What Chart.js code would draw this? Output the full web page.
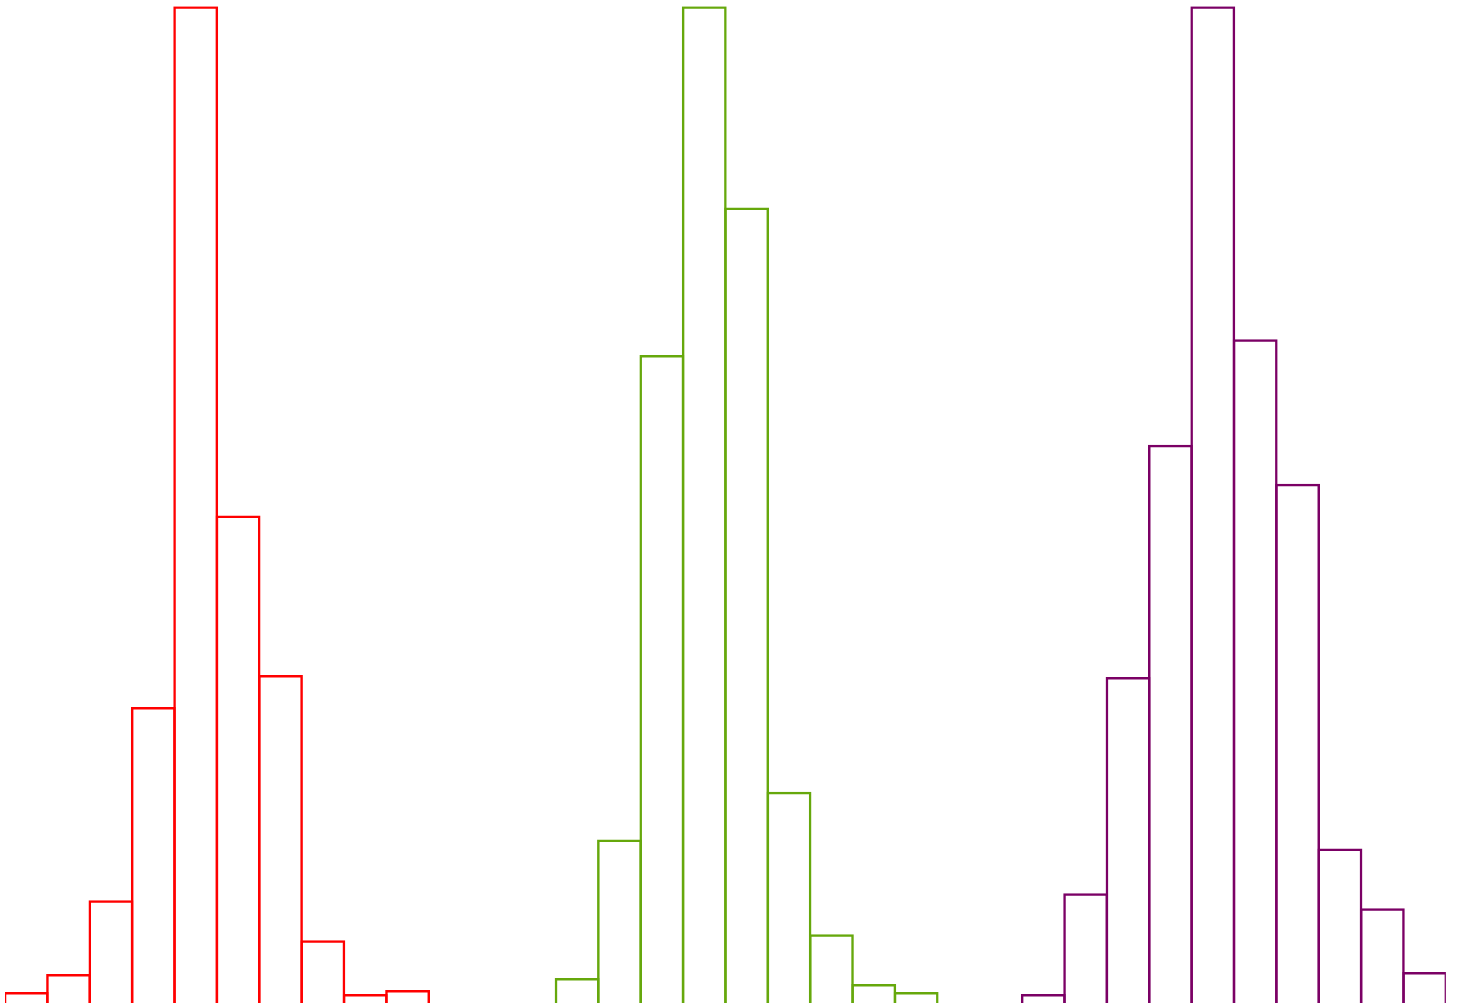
<!DOCTYPE html>
<html>
<head>
<meta charset="utf-8">
<script src="https://cdn.jsdelivr.net/npm/chart.js@4/dist/chart.umd.min.js"></script>
<style>
html,body{margin:0;padding:0;background:#fff;}
#wrap{width:1461px;height:1003px;position:relative;}
</style>
</head>
<body>
<div id="wrap"><canvas id="c"></canvas></div>
<script>
// 34 bins along a shared axis
const binCount = 34;
const binLabels = Array.from({length: binCount}, (_, i) => String(i));

// histogram 1 (red): starts at bin 0
const redStart = 0;
const redValues = [1.1, 2.9, 10.3, 29.7, 100, 48.9, 32.9, 6.3, 0.9, 1.3];

// histogram 2 (green): starts at bin 13
const greenStart = 13;
const greenValues = [2.5, 16.4, 65.0, 100, 79.8, 21.2, 6.9, 1.9, 1.1];

// histogram 3 (purple): starts at bin 24
const purpleStart = 24;
const purpleValues = [0.9, 11.0, 32.7, 56.0, 100, 66.6, 52.1, 15.5, 9.5, 3.1];

function place(start, vals) {
  const arr = new Array(binCount).fill(null);
  vals.forEach((v, i) => { arr[start + i] = v; });
  return arr;
}

const bw = 2.5;
const catW = (1461 - 5 - 15.1) / binCount;
const barPct = (catW + bw) / catW;

function ds(data, color) {
  return {
    data,
    backgroundColor: 'rgba(0,0,0,0)',
    borderColor: color,
    borderWidth: bw,
    borderSkipped: 'bottom',
    grouped: false,
    barPercentage: barPct,
    categoryPercentage: 1,
    inflateAmount: 0
  };
}

new Chart(document.getElementById('c'), {
  type: 'bar',
  data: {
    labels: binLabels,
    datasets: [
      ds(place(redStart, redValues), '#ff0000'),
      ds(place(greenStart, greenValues), '#66a80c'),
      ds(place(purpleStart, purpleValues), '#7b0065')
    ]
  },
  options: {
    responsive: true,
    maintainAspectRatio: false,
    animation: false,
    layout: { padding: { left: 5, right: 15.1, top: 6.25, bottom: 0 } },
    plugins: { legend: { display: false }, tooltip: { enabled: false } },
    scales: {
      x: { display: false, offset: true },
      y: { display: false, min: 0, max: 100 }
    }
  }
});
</script>
</body>
</html>
